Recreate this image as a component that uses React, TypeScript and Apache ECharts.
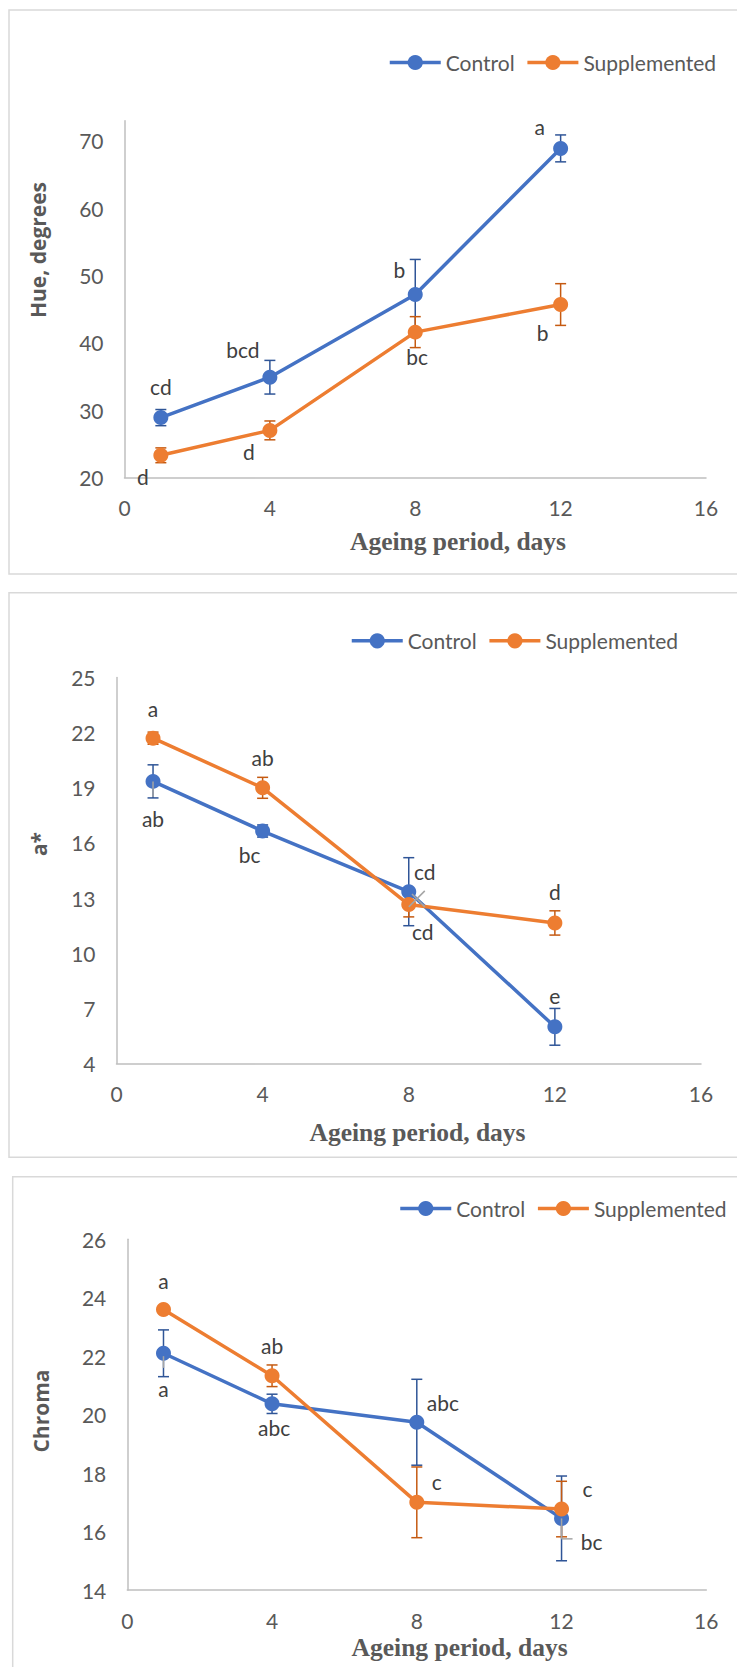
import React, { useEffect, useRef } from 'react';
import * as echarts from 'echarts';

// ---------- data ----------
const days = [1, 4, 8, 12];
const seriesNames = ['Control', 'Supplemented'];
const xTicks = [0, 4, 8, 12, 16];

const hueControl = [28.9, 34.9, 47.2, 68.9];
const hueControlErr = [1.2, 2.5, 5.2, 2.0];
const hueSupplemented = [23.3, 27.0, 41.6, 45.7];
const hueSupplementedErr = [1.1, 1.4, 2.3, 3.1];
const hueControlLetters = ['cd', 'bcd', 'b', 'a'];
const hueSupplementedLetters = ['d', 'd', 'bc', 'b'];
const hueTicks = [20, 30, 40, 50, 60, 70];
const hueAxisMax = 73;

const aControl = [19.35, 16.65, 13.35, 6.0];
const aControlErr = [0.9, 0.33, 1.85, 1.0];
const aSupplemented = [21.7, 19.0, 12.65, 11.65];
const aSupplementedErr = [0.33, 0.57, 0.67, 0.66];
const aControlLetters = ['ab', 'bc', 'cd', 'e'];
const aSupplementedLetters = ['a', 'ab', 'cd', 'd'];
const aTicks = [4, 7, 10, 13, 16, 19, 22, 25];

const chromaControl = [22.1, 20.37, 19.74, 16.45];
const chromaControlErr = [0.8, 0.33, 1.47, 1.45];
const chromaSupplemented = [23.6, 21.33, 17.0, 16.77];
const chromaSupplementedErr = [0.1, 0.37, 1.21, 0.95];
const chromaControlLetters = ['a', 'abc', 'abc', 'bc'];
const chromaSupplementedLetters = ['a', 'ab', 'c', 'c'];
const chromaTicks = [14, 16, 18, 20, 22, 24, 26];

// stray grey error-bar marks visible in the original (x, from, to, halfCap)
const aGhostBars = [[1, 19.35, 18.5, 0]];
const aGhostCross = [[8.22, 12.96]];
const chromaGhostBars = [[1, 22.0, 21.6, 0], [12, 16.45, 15.75, 1]];

// ---------- layout / style ----------
const BLUE = '#4472C4';
const ORANGE = '#ED7D31';
const BLUE_ERR = '#2F5597';
const ORANGE_ERR = '#C55A11';
const GREY = '#A5A5A5';
const AXIS = '#BFBFBF';
const TXT = '#595959';
const LBL = '#404040';
const SANS = 'Lato';
const FS = 21;

const hueCtrlOffsets = [[0, -31], [-27, -28], [-16, -25], [-21, -22]];
const hueSuppOffsets = [[-18, 21], [-21, 21], [2, 24], [-18, 28]];
const aCtrlOffsets = [[0, 37], [-13, 23], [16, -20], [0, -31]];
const aSuppOffsets = [[0, -30], [0, -30], [14, 27], [0, -31]];
const chCtrlOffsets = [[0, 35], [2, 24], [26, -20], [30, 23]];
const chSuppOffsets = [[0, -29], [0, -30], [20, -21], [26, -21]];

const panels = [
  {
    grid: { left: 124.5, top: 120.8, width: 581.5, height: 356.7 },
    yMin: hueTicks[0], yMax: hueAxisMax, yInterval: 10, yTicks: hueTicks,
    ctrl: hueControl, ctrlErr: hueControlErr, supp: hueSupplemented, suppErr: hueSupplementedErr,
    ctrlLetters: hueControlLetters, suppLetters: hueSupplementedLetters,
    ctrlOff: hueCtrlOffsets, suppOff: hueSuppOffsets,
    legend: { left: 388, cy: 64 },
    box: { x: 9, y: 10, h: 564 },
    yTitle: { text: 'Hue, degrees', x: 37.6, y: 250 },
    xTitle: { x: 458, y: 541 },
    ghostBars: [], ghostCross: [],
  },
  {
    grid: { left: 116.5, top: 677.5, width: 584.5, height: 386.1 },
    yMin: aTicks[0], yMax: aTicks[aTicks.length - 1], yInterval: 3, yTicks: aTicks,
    ctrl: aControl, ctrlErr: aControlErr, supp: aSupplemented, suppErr: aSupplementedErr,
    ctrlLetters: aControlLetters, suppLetters: aSupplementedLetters,
    ctrlOff: aCtrlOffsets, suppOff: aSuppOffsets,
    legend: { left: 350, cy: 642.3 },
    box: { x: 9, y: 592.7, h: 564.6 },
    yTitle: { text: 'a*', x: 38.5, y: 844 },
    xTitle: { x: 417.5, y: 1132 },
    ghostBars: aGhostBars, ghostCross: aGhostCross,
  },
  {
    grid: { left: 127.3, top: 1239.3, width: 579, height: 350.7 },
    yMin: chromaTicks[0], yMax: chromaTicks[chromaTicks.length - 1], yInterval: 2, yTicks: chromaTicks,
    ctrl: chromaControl, ctrlErr: chromaControlErr, supp: chromaSupplemented, suppErr: chromaSupplementedErr,
    ctrlLetters: chromaControlLetters, suppLetters: chromaSupplementedLetters,
    ctrlOff: chCtrlOffsets, suppOff: chSuppOffsets,
    legend: { left: 398.5, cy: 1210 },
    box: { x: 12.7, y: 1176.7, h: 600 },
    yTitle: { text: 'Chroma', x: 40.7, y: 1411 },
    xTitle: { x: 459.6, y: 1647.7 },
    ghostBars: chromaGhostBars, ghostCross: [],
  },
];

function errSeries(idx: number, values: number[], errs: number[], color: string) {
  return {
    type: 'custom',
    xAxisIndex: idx,
    yAxisIndex: idx,
    z: 1,
    silent: true,
    clip: false,
    data: days.map((d, i) => [d, values[i] - errs[i], values[i] + errs[i]]),
    encode: { x: 0, y: [1, 2] },
    renderItem: (params: any, api: any) => {
      const x = api.value(0);
      const top = api.coord([x, api.value(2)]);
      const bot = api.coord([x, api.value(1)]);
      const w = 5.5;
      const style = { stroke: color, lineWidth: 1.5 };
      return {
        type: 'group',
        children: [
          { type: 'line', shape: { x1: top[0], y1: top[1], x2: bot[0], y2: bot[1] }, style },
          { type: 'line', shape: { x1: top[0] - w, y1: top[1], x2: top[0] + w, y2: top[1] }, style },
          { type: 'line', shape: { x1: bot[0] - w, y1: bot[1], x2: bot[0] + w, y2: bot[1] }, style },
        ],
      };
    },
  };
}

function ghostBarSeries(idx: number, bars: number[][]) {
  return {
    type: 'custom',
    xAxisIndex: idx,
    yAxisIndex: idx,
    z: 4,
    silent: true,
    clip: false,
    data: bars,
    encode: { x: 0, y: [1, 2] },
    renderItem: (params: any, api: any) => {
      const x = api.value(0);
      const a = api.coord([x, api.value(1)]);
      const b = api.coord([x, api.value(2)]);
      const style = { stroke: GREY, lineWidth: 1.5 };
      const children: any[] = [
        { type: 'line', shape: { x1: a[0], y1: a[1], x2: b[0], y2: b[1] }, style },
      ];
      if (api.value(3) > 0) {
        children.push({ type: 'line', shape: { x1: b[0], y1: b[1], x2: b[0] + 11, y2: b[1] }, style });
      }
      return { type: 'group', children };
    },
  };
}

function ghostCrossSeries(idx: number, pts: number[][]) {
  return {
    type: 'custom',
    xAxisIndex: idx,
    yAxisIndex: idx,
    z: 4,
    silent: true,
    clip: false,
    data: pts,
    encode: { x: 0, y: 1 },
    renderItem: (params: any, api: any) => {
      const c = api.coord([api.value(0), api.value(1)]);
      const s = 8;
      const style = { stroke: GREY, lineWidth: 1.5 };
      return {
        type: 'group',
        children: [
          { type: 'line', shape: { x1: c[0] - s, y1: c[1] + s, x2: c[0] + s, y2: c[1] - s }, style },
          { type: 'line', shape: { x1: c[0] - s * 0.6, y1: c[1] - s * 0.6, x2: c[0] + s, y2: c[1] + s }, style },
        ],
      };
    },
  };
}

function lineSeries(idx: number, name: string, values: number[], letters: string[], offs: number[][], color: string) {
  return {
    type: 'line',
    name,
    xAxisIndex: idx,
    yAxisIndex: idx,
    z: 3,
    silent: true,
    symbol: 'circle',
    symbolSize: 15,
    color,
    itemStyle: { color },
    lineStyle: { color, width: 3.5 },
    emphasis: { disabled: true },
    label: {
      show: true,
      position: 'inside',
      fontFamily: SANS,
      fontSize: FS,
      color: LBL,
    },
    data: days.map((d, i) => ({
      value: [d, values[i]],
      label: { formatter: letters[i], offset: offs[i] },
    })),
  };
}

function buildOption() {
  const grids: any[] = [];
  const xAxes: any[] = [];
  const yAxes: any[] = [];
  const legends: any[] = [];
  const series: any[] = [];
  const graphics: any[] = [];

  panels.forEach((p, idx) => {
    grids.push({ ...p.grid, containLabel: false });
    xAxes.push({
      type: 'value',
      gridIndex: idx,
      min: xTicks[0],
      max: xTicks[xTicks.length - 1],
      interval: xTicks[1] - xTicks[0],
      axisLine: { show: true, lineStyle: { color: AXIS, width: 1.5 } },
      axisTick: { show: false },
      splitLine: { show: false },
      axisLabel: { fontFamily: SANS, fontSize: FS, color: TXT, margin: 19.5 },
    });
    const ticks = p.yTicks;
    yAxes.push({
      type: 'value',
      gridIndex: idx,
      min: p.yMin,
      max: p.yMax,
      interval: p.yInterval,
      axisLine: { show: true, lineStyle: { color: AXIS, width: 1.5 } },
      axisTick: { show: false },
      splitLine: { show: false },
      axisLabel: {
        fontFamily: SANS,
        fontSize: FS,
        color: TXT,
        margin: 21,
        formatter: (v: number) => (ticks.indexOf(v) >= 0 ? String(v) : ''),
      },
    });
    legends.push({
      data: seriesNames,
      left: p.legend.left,
      top: p.legend.cy - 12,
      padding: 0,
      itemWidth: 51,
      itemHeight: 19,
      itemGap: 11,
      selectedMode: false,
      lineStyle: { width: 3.5 },
      textStyle: { fontFamily: SANS, fontSize: FS, color: TXT },
    });
    series.push(errSeries(idx, p.ctrl, p.ctrlErr, BLUE_ERR));
    series.push(errSeries(idx, p.supp, p.suppErr, ORANGE_ERR));
    series.push(lineSeries(idx, seriesNames[0], p.ctrl, p.ctrlLetters, p.ctrlOff, BLUE));
    series.push(lineSeries(idx, seriesNames[1], p.supp, p.suppLetters, p.suppOff, ORANGE));
    if (p.ghostBars.length) series.push(ghostBarSeries(idx, p.ghostBars));
    if (p.ghostCross.length) series.push(ghostCrossSeries(idx, p.ghostCross));

    graphics.push({
      type: 'rect',
      silent: true,
      z: -10,
      shape: { x: p.box.x, y: p.box.y, width: 760, height: p.box.h },
      style: { fill: 'none', stroke: '#D9D9D9', lineWidth: 1.5 },
    });
    graphics.push({
      type: 'text',
      silent: true,
      x: p.yTitle.x,
      y: p.yTitle.y,
      rotation: Math.PI / 2,
      style: {
        text: p.yTitle.text,
        fontFamily: 'Open Sans',
        fontWeight: 'bold',
        fontSize: 21,
        fill: TXT,
        align: 'center',
        verticalAlign: 'middle',
      },
    });
    graphics.push({
      type: 'text',
      silent: true,
      x: p.xTitle.x,
      y: p.xTitle.y,
      style: {
        text: 'Ageing period, days',
        fontFamily: 'Liberation Serif',
        fontWeight: 'bold',
        fontSize: 25.5,
        fill: TXT,
        align: 'center',
        verticalAlign: 'middle',
      },
    });
  });

  return {
    animation: false,
    backgroundColor: '#ffffff',
    grid: grids,
    xAxis: xAxes,
    yAxis: yAxes,
    legend: legends,
    series,
    graphic: graphics,
  };
}

export default function App() {
  const ref = useRef<HTMLDivElement>(null);
  useEffect(() => {
    if (!ref.current) return;
    const chart = echarts.init(ref.current, undefined, { renderer: 'svg' });
    chart.setOption(buildOption() as any);
    return () => chart.dispose();
  }, []);
  return (
    <div
      ref={ref}
      style={{ position: 'absolute', left: 0, top: 0, width: 737, height: 1667, background: '#fff' }}
    />
  );
}
